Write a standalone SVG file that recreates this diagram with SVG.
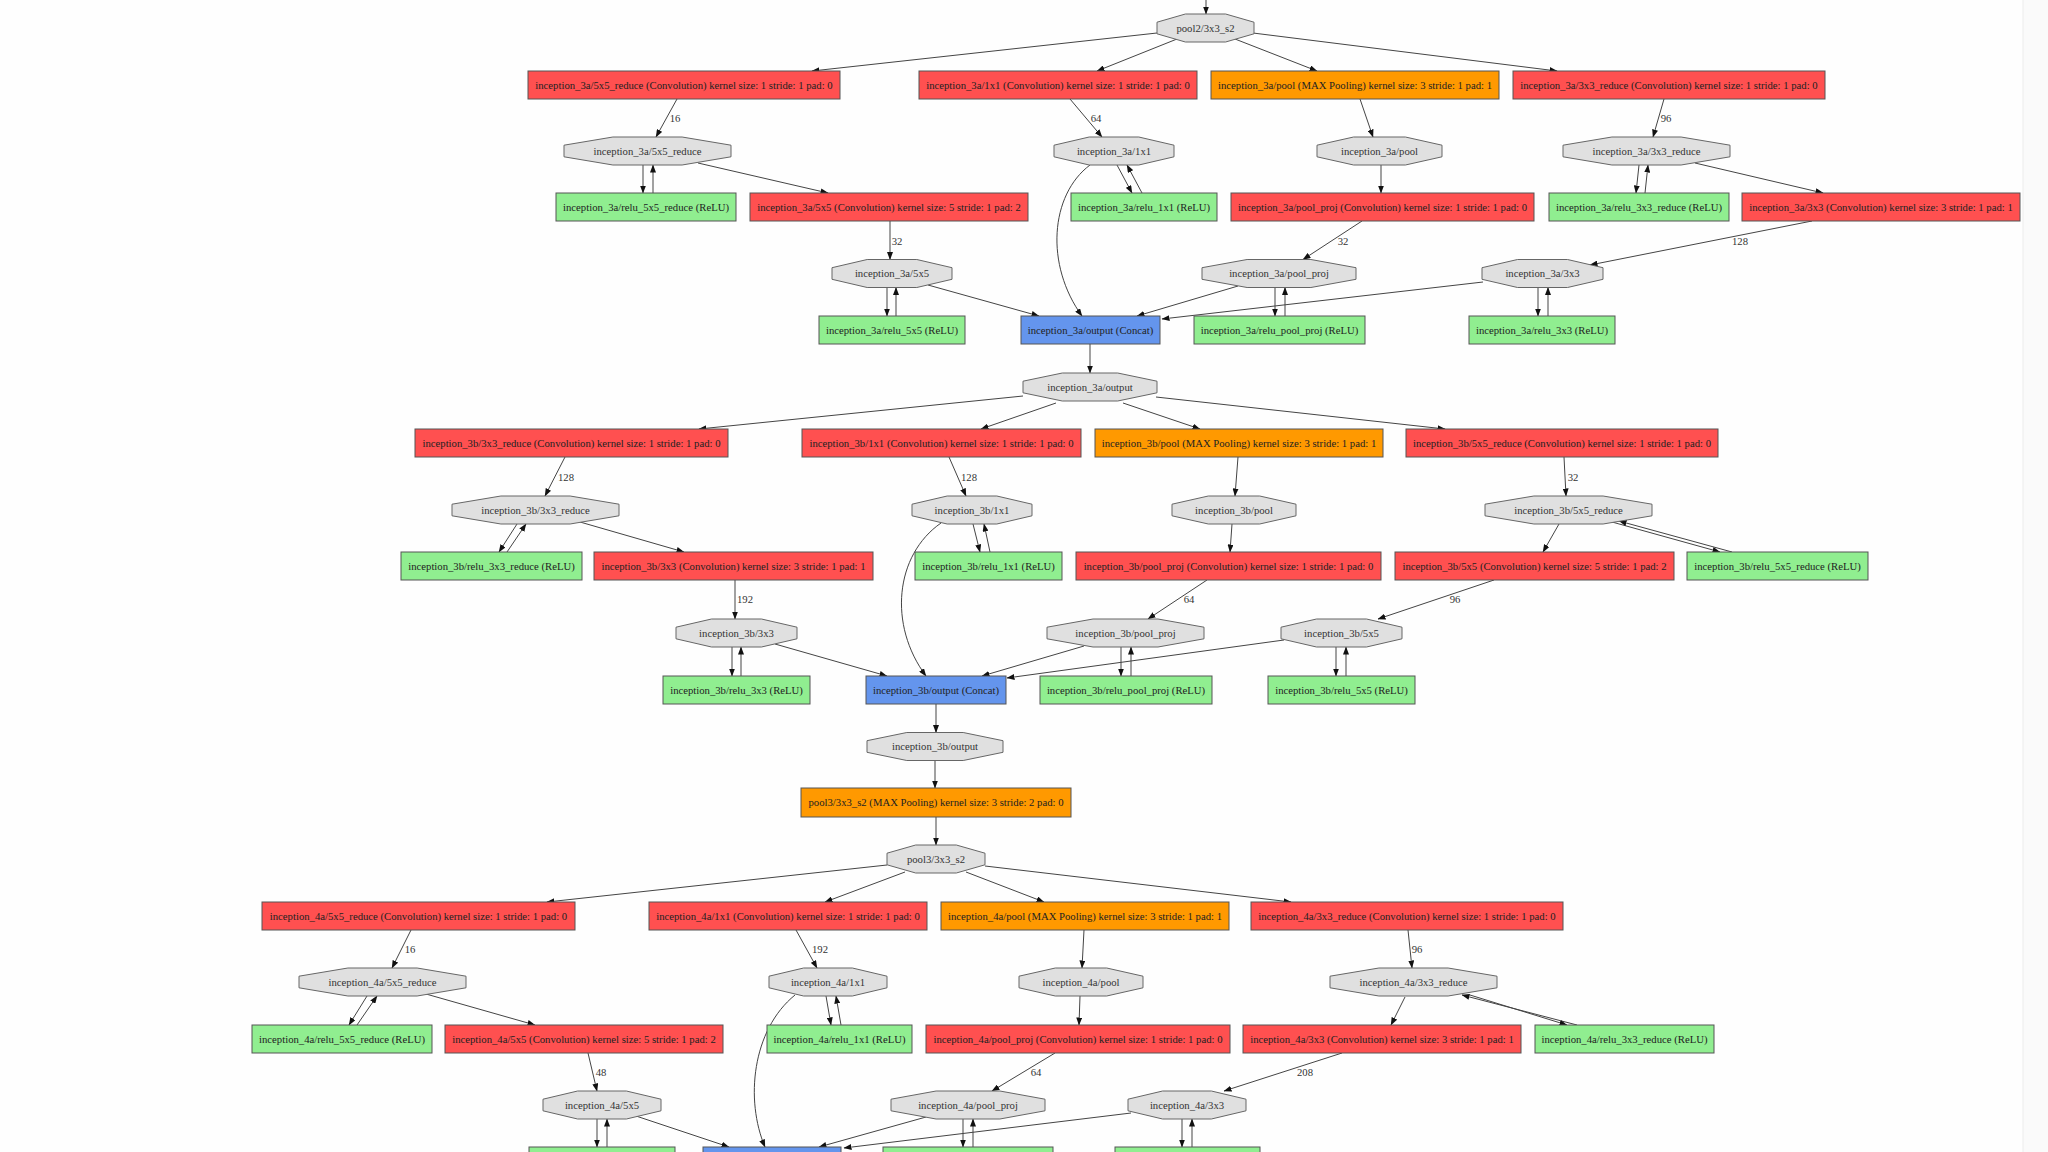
<svg xmlns="http://www.w3.org/2000/svg" width="2048" height="1152" viewBox="0 0 2048 1152">
<defs>
<style>
text{font-family:"Liberation Serif","Times New Roman",serif;font-size:10.7px;fill:#222;text-anchor:middle}
.conv rect{fill:#FF5050;stroke:#555;stroke-width:1}
.pool rect{fill:#FF9900;stroke:#555;stroke-width:1}
.relu rect{fill:#90EE90;stroke:#555;stroke-width:1}
.concat rect{fill:#6495ED;stroke:#555;stroke-width:1}
.blob polygon{fill:#E0E0E0;stroke:#666;stroke-width:1}
.blob text{fill:#333}
#edges path,#edges line{stroke:#444;stroke-width:1;fill:none;marker-end:url(#ah)}
#edges text{fill:#333}
</style>
<marker id="ah" markerUnits="userSpaceOnUse" markerWidth="8" markerHeight="6" refX="7.5" refY="3" orient="auto">
<path d="M0,0 L8,3 L0,6 z" fill="#111"/>
</marker>
</defs>
<rect width="2048" height="1152" fill="#fefefe"/>
<rect x="2023" y="0" width="25" height="1152" fill="#fafafa"/>
<line x1="2023" y1="0" x2="2023" y2="1152" stroke="#ececec" stroke-width="1"/>

<g id="edges">
<line x1="1206" y1="0" x2="1206" y2="14"/>
<line x1="1157" y1="33" x2="812" y2="71"/>
<line x1="1177" y1="39" x2="1097" y2="71"/>
<line x1="1235" y1="39" x2="1317" y2="71"/>
<line x1="1253" y1="33" x2="1557" y2="71"/>
<line x1="677" y1="99" x2="656" y2="137"/><text x="675" y="122">16</text>
<line x1="643" y1="165" x2="643" y2="193"/>
<line x1="653" y1="193" x2="653" y2="165"/>
<line x1="698" y1="163" x2="828" y2="193"/>
<line x1="890" y1="221" x2="890" y2="259.5"/><text x="897" y="245">32</text>
<line x1="887" y1="287.5" x2="887" y2="316"/>
<line x1="896" y1="316" x2="896" y2="287.5"/>
<line x1="928" y1="285" x2="1039" y2="316"/>
<line x1="1070" y1="99" x2="1102" y2="137"/><text x="1096" y="122">64</text>
<line x1="1117" y1="165" x2="1132" y2="193"/>
<line x1="1142" y1="193" x2="1127" y2="165"/>
<path d="M1090,165 C1050,195 1045,265 1082,316"/>
<line x1="1360" y1="99" x2="1373" y2="137"/>
<line x1="1381" y1="165" x2="1381" y2="193"/>
<line x1="1362" y1="221" x2="1303" y2="259.5"/><text x="1343" y="245">32</text>
<line x1="1275" y1="287.5" x2="1275" y2="316"/>
<line x1="1285" y1="316" x2="1285" y2="287.5"/>
<line x1="1238" y1="286" x2="1137" y2="316"/>
<line x1="1664" y1="99" x2="1653" y2="137"/><text x="1666" y="122">96</text>
<line x1="1639" y1="165" x2="1636" y2="193"/>
<line x1="1645" y1="193" x2="1648" y2="165"/>
<line x1="1695" y1="163" x2="1823" y2="193"/>
<line x1="1812" y1="221" x2="1590" y2="265"/><text x="1740" y="245">128</text>
<line x1="1538" y1="287.5" x2="1538" y2="316"/>
<line x1="1548" y1="316" x2="1548" y2="287.5"/>
<line x1="1483" y1="282" x2="1162" y2="319"/>
<line x1="1090" y1="344" x2="1090" y2="373"/>

<line x1="1023" y1="396" x2="699" y2="429"/>
<line x1="1056" y1="403" x2="981" y2="429"/>
<line x1="1123" y1="403" x2="1200" y2="429"/>
<line x1="1156" y1="397" x2="1445" y2="429"/>
<line x1="565" y1="457" x2="545" y2="496"/><text x="566" y="481">128</text>
<line x1="517" y1="524" x2="499" y2="552"/>
<line x1="507" y1="552" x2="526" y2="524"/>
<line x1="580" y1="522" x2="684" y2="552"/>
<line x1="735" y1="580" x2="735" y2="619"/><text x="745" y="603">192</text>
<line x1="732" y1="647" x2="732" y2="676"/>
<line x1="741" y1="676" x2="741" y2="647"/>
<line x1="775" y1="644" x2="887" y2="676"/>
<line x1="949" y1="457" x2="966" y2="496"/><text x="969" y="481">128</text>
<line x1="973" y1="524" x2="980" y2="552"/>
<line x1="990" y1="552" x2="984" y2="524"/>
<path d="M941,523 C895,555 888,625 926,676"/>
<line x1="1238" y1="457" x2="1235" y2="496"/>
<line x1="1232" y1="524" x2="1230" y2="552"/>
<line x1="1207" y1="580" x2="1148" y2="619"/><text x="1189" y="603">64</text>
<line x1="1121" y1="647" x2="1121" y2="676"/>
<line x1="1131" y1="676" x2="1131" y2="647"/>
<line x1="1084" y1="646" x2="982" y2="676"/>
<line x1="1284" y1="640" x2="1007" y2="678"/>
<line x1="1564" y1="457" x2="1566" y2="496"/><text x="1573" y="481">32</text>
<line x1="1559" y1="524" x2="1543" y2="552"/>
<line x1="1612" y1="522" x2="1720" y2="552"/>
<line x1="1732" y1="552" x2="1619" y2="521"/>
<line x1="1494" y1="580" x2="1378" y2="619"/><text x="1455" y="603">96</text>
<line x1="1336" y1="647" x2="1336" y2="676"/>
<line x1="1346" y1="676" x2="1346" y2="647"/>
<line x1="936" y1="703" x2="936" y2="732.5"/>

<line x1="935" y1="760.5" x2="935" y2="788"/>
<line x1="936" y1="817" x2="936" y2="845"/>

<line x1="887" y1="865" x2="547" y2="902"/>
<line x1="905" y1="872" x2="825" y2="902"/>
<line x1="966" y1="872" x2="1044" y2="902"/>
<line x1="985" y1="866" x2="1291" y2="902"/>
<line x1="411" y1="930" x2="392" y2="968"/><text x="410" y="953">16</text>
<line x1="367" y1="996" x2="349" y2="1025"/>
<line x1="357" y1="1025" x2="377" y2="996"/>
<line x1="426" y1="994" x2="535" y2="1025"/>
<line x1="588" y1="1053" x2="597" y2="1091"/><text x="601" y="1076">48</text>
<line x1="597" y1="1119" x2="597" y2="1147"/>
<line x1="607" y1="1147" x2="607" y2="1119"/>
<line x1="636" y1="1116" x2="729" y2="1147"/>
<line x1="796" y1="930" x2="817" y2="968"/><text x="820" y="953">192</text>
<line x1="826" y1="996" x2="831" y2="1025"/>
<line x1="841" y1="1025" x2="836" y2="996"/>
<path d="M795,995 C752,1030 745,1100 765,1147"/>
<line x1="1084" y1="930" x2="1082" y2="968"/>
<line x1="1080" y1="996" x2="1079" y2="1025"/>
<line x1="1055" y1="1053" x2="992" y2="1091"/><text x="1036" y="1076">64</text>
<line x1="963" y1="1119" x2="963" y2="1147"/>
<line x1="973" y1="1147" x2="973" y2="1119"/>
<line x1="926" y1="1117" x2="819" y2="1147"/>
<line x1="1131" y1="1113" x2="844" y2="1148"/>
<line x1="1408" y1="930" x2="1412" y2="968"/><text x="1417" y="953">96</text>
<line x1="1405" y1="997" x2="1391" y2="1025"/>
<line x1="1577" y1="1025" x2="1462" y2="995"/>
<line x1="1470" y1="995" x2="1567" y2="1025"/>
<line x1="1342" y1="1053" x2="1224" y2="1091"/><text x="1305" y="1076">208</text>
<line x1="1182" y1="1119" x2="1182" y2="1147"/>
<line x1="1192" y1="1147" x2="1192" y2="1119"/>
</g>

<g id="pool2_3x3_s2_blob" class="blob"><polygon points="1157,22.2 1185.4,14 1225.6,14 1254,22.2 1254,33.8 1225.6,42 1185.4,42 1157,33.8"/><text x="1205.5" y="31.7">pool2/3x3_s2</text></g>

<g id="inception_3a_5x5_reduce" class="conv"><rect x="528" y="71" width="312" height="28"/><text x="684" y="88.7">inception_3a/5x5_reduce (Convolution) kernel size: 1 stride: 1 pad: 0</text></g>
<g id="inception_3a_1x1" class="conv"><rect x="919" y="71" width="278" height="28"/><text x="1058" y="88.7">inception_3a/1x1 (Convolution) kernel size: 1 stride: 1 pad: 0</text></g>
<g id="inception_3a_pool" class="pool"><rect x="1211" y="71" width="288" height="28"/><text x="1355" y="88.7">inception_3a/pool (MAX Pooling) kernel size: 3 stride: 1 pad: 1</text></g>
<g id="inception_3a_3x3_reduce" class="conv"><rect x="1513" y="71" width="312" height="28"/><text x="1669" y="88.7">inception_3a/3x3_reduce (Convolution) kernel size: 1 stride: 1 pad: 0</text></g>

<g id="inception_3a_5x5_reduce_blob" class="blob"><polygon points="564,145.2 612.9,137 682.1,137 731,145.2 731,156.8 682.1,165 612.9,165 564,156.8"/><text x="647.5" y="154.7">inception_3a/5x5_reduce</text></g>
<g id="inception_3a_1x1_blob" class="blob"><polygon points="1054,145.2 1089.2,137 1138.8,137 1174,145.2 1174,156.8 1138.8,165 1089.2,165 1054,156.8"/><text x="1114" y="154.7">inception_3a/1x1</text></g>
<g id="inception_3a_pool_blob" class="blob"><polygon points="1317,145.2 1353.6,137 1405.4,137 1442,145.2 1442,156.8 1405.4,165 1353.6,165 1317,156.8"/><text x="1379.5" y="154.7">inception_3a/pool</text></g>
<g id="inception_3a_3x3_reduce_blob" class="blob"><polygon points="1563,145.2 1611.9,137 1681.1,137 1730,145.2 1730,156.8 1681.1,165 1611.9,165 1563,156.8"/><text x="1646.5" y="154.7">inception_3a/3x3_reduce</text></g>

<g id="inception_3a_relu_5x5_reduce" class="relu"><rect x="556" y="193" width="180" height="28"/><text x="646" y="210.7">inception_3a/relu_5x5_reduce (ReLU)</text></g>
<g id="inception_3a_5x5" class="conv"><rect x="750" y="193" width="278" height="28"/><text x="889" y="210.7">inception_3a/5x5 (Convolution) kernel size: 5 stride: 1 pad: 2</text></g>
<g id="inception_3a_relu_1x1" class="relu"><rect x="1071" y="193" width="146" height="28"/><text x="1144" y="210.7">inception_3a/relu_1x1 (ReLU)</text></g>
<g id="inception_3a_pool_proj" class="conv"><rect x="1231" y="193" width="303" height="28"/><text x="1382.5" y="210.7">inception_3a/pool_proj (Convolution) kernel size: 1 stride: 1 pad: 0</text></g>
<g id="inception_3a_relu_3x3_reduce" class="relu"><rect x="1549" y="193" width="180" height="28"/><text x="1639" y="210.7">inception_3a/relu_3x3_reduce (ReLU)</text></g>
<g id="inception_3a_3x3" class="conv"><rect x="1742" y="193" width="278" height="28"/><text x="1881" y="210.7">inception_3a/3x3 (Convolution) kernel size: 3 stride: 1 pad: 1</text></g>

<g id="inception_3a_5x5_blob" class="blob"><polygon points="832,267.7 867.2,259.5 916.8,259.5 952,267.7 952,279.3 916.8,287.5 867.2,287.5 832,279.3"/><text x="892" y="277.2">inception_3a/5x5</text></g>
<g id="inception_3a_pool_proj_blob" class="blob"><polygon points="1202,267.7 1247.1,259.5 1310.9,259.5 1356,267.7 1356,279.3 1310.9,287.5 1247.1,287.5 1202,279.3"/><text x="1279" y="277.2">inception_3a/pool_proj</text></g>
<g id="inception_3a_3x3_blob" class="blob"><polygon points="1482,267.7 1517.5,259.5 1567.5,259.5 1603,267.7 1603,279.3 1567.5,287.5 1517.5,287.5 1482,279.3"/><text x="1542.5" y="277.2">inception_3a/3x3</text></g>

<g id="inception_3a_relu_5x5" class="relu"><rect x="819" y="316" width="146" height="28"/><text x="892" y="333.7">inception_3a/relu_5x5 (ReLU)</text></g>
<g id="inception_3a_output" class="concat"><rect x="1021" y="316" width="139" height="28"/><text x="1090.5" y="333.7">inception_3a/output (Concat)</text></g>
<g id="inception_3a_relu_pool_proj" class="relu"><rect x="1194" y="316" width="171" height="28"/><text x="1279.5" y="333.7">inception_3a/relu_pool_proj (ReLU)</text></g>
<g id="inception_3a_relu_3x3" class="relu"><rect x="1469" y="316" width="146" height="28"/><text x="1542" y="333.7">inception_3a/relu_3x3 (ReLU)</text></g>

<g id="inception_3a_output_blob" class="blob"><polygon points="1023,381.2 1062.3,373 1117.7,373 1157,381.2 1157,392.8 1117.7,401 1062.3,401 1023,392.8"/><text x="1090" y="390.7">inception_3a/output</text></g>

<g id="inception_3b_3x3_reduce" class="conv"><rect x="415" y="429" width="313" height="28"/><text x="571.5" y="446.7">inception_3b/3x3_reduce (Convolution) kernel size: 1 stride: 1 pad: 0</text></g>
<g id="inception_3b_1x1" class="conv"><rect x="802" y="429" width="279" height="28"/><text x="941.5" y="446.7">inception_3b/1x1 (Convolution) kernel size: 1 stride: 1 pad: 0</text></g>
<g id="inception_3b_pool" class="pool"><rect x="1095" y="429" width="288" height="28"/><text x="1239" y="446.7">inception_3b/pool (MAX Pooling) kernel size: 3 stride: 1 pad: 1</text></g>
<g id="inception_3b_5x5_reduce" class="conv"><rect x="1406" y="429" width="312" height="28"/><text x="1562" y="446.7">inception_3b/5x5_reduce (Convolution) kernel size: 1 stride: 1 pad: 0</text></g>

<g id="inception_3b_3x3_reduce_blob" class="blob"><polygon points="452,504.2 500.9,496 570.1,496 619,504.2 619,515.8 570.1,524 500.9,524 452,515.8"/><text x="535.5" y="513.7">inception_3b/3x3_reduce</text></g>
<g id="inception_3b_1x1_blob" class="blob"><polygon points="912,504.2 947.2,496 996.8,496 1032,504.2 1032,515.8 996.8,524 947.2,524 912,515.8"/><text x="972" y="513.7">inception_3b/1x1</text></g>
<g id="inception_3b_pool_blob" class="blob"><polygon points="1172,504.2 1208.3,496 1259.7,496 1296,504.2 1296,515.8 1259.7,524 1208.3,524 1172,515.8"/><text x="1234" y="513.7">inception_3b/pool</text></g>
<g id="inception_3b_5x5_reduce_blob" class="blob"><polygon points="1485,504.2 1533.9,496 1603.1,496 1652,504.2 1652,515.8 1603.1,524 1533.9,524 1485,515.8"/><text x="1568.5" y="513.7">inception_3b/5x5_reduce</text></g>

<g id="inception_3b_relu_3x3_reduce" class="relu"><rect x="401" y="552" width="181" height="28"/><text x="491.5" y="569.7">inception_3b/relu_3x3_reduce (ReLU)</text></g>
<g id="inception_3b_3x3" class="conv"><rect x="594" y="552" width="279" height="28"/><text x="733.5" y="569.7">inception_3b/3x3 (Convolution) kernel size: 3 stride: 1 pad: 1</text></g>
<g id="inception_3b_relu_1x1" class="relu"><rect x="915" y="552" width="147" height="28"/><text x="988.5" y="569.7">inception_3b/relu_1x1 (ReLU)</text></g>
<g id="inception_3b_pool_proj" class="conv"><rect x="1076" y="552" width="305" height="28"/><text x="1228.5" y="569.7">inception_3b/pool_proj (Convolution) kernel size: 1 stride: 1 pad: 0</text></g>
<g id="inception_3b_5x5" class="conv"><rect x="1395" y="552" width="279" height="28"/><text x="1534.5" y="569.7">inception_3b/5x5 (Convolution) kernel size: 5 stride: 1 pad: 2</text></g>
<g id="inception_3b_relu_5x5_reduce" class="relu"><rect x="1687" y="552" width="181" height="28"/><text x="1777.5" y="569.7">inception_3b/relu_5x5_reduce (ReLU)</text></g>

<g id="inception_3b_3x3_blob" class="blob"><polygon points="676,627.2 711.5,619 761.5,619 797,627.2 797,638.8 761.5,647 711.5,647 676,638.8"/><text x="736.5" y="636.7">inception_3b/3x3</text></g>
<g id="inception_3b_pool_proj_blob" class="blob"><polygon points="1047,627.2 1093,619 1158,619 1204,627.2 1204,638.8 1158,647 1093,647 1047,638.8"/><text x="1125.5" y="636.7">inception_3b/pool_proj</text></g>
<g id="inception_3b_5x5_blob" class="blob"><polygon points="1281,627.2 1316.5,619 1366.5,619 1402,627.2 1402,638.8 1366.5,647 1316.5,647 1281,638.8"/><text x="1341.5" y="636.7">inception_3b/5x5</text></g>

<g id="inception_3b_relu_3x3" class="relu"><rect x="663" y="676" width="147" height="28"/><text x="736.5" y="693.7">inception_3b/relu_3x3 (ReLU)</text></g>
<g id="inception_3b_output" class="concat"><rect x="866" y="676" width="140" height="28"/><text x="936" y="693.7">inception_3b/output (Concat)</text></g>
<g id="inception_3b_relu_pool_proj" class="relu"><rect x="1040" y="676" width="172" height="28"/><text x="1126" y="693.7">inception_3b/relu_pool_proj (ReLU)</text></g>
<g id="inception_3b_relu_5x5" class="relu"><rect x="1268" y="676" width="147" height="28"/><text x="1341.5" y="693.7">inception_3b/relu_5x5 (ReLU)</text></g>

<g id="inception_3b_output_blob" class="blob"><polygon points="867,740.7 906.8,732.5 963.2,732.5 1003,740.7 1003,752.3 963.2,760.5 906.8,760.5 867,752.3"/><text x="935" y="750.2">inception_3b/output</text></g>

<g id="pool3_3x3_s2" class="pool"><rect x="801" y="788" width="270" height="29"/><text x="936" y="806.2">pool3/3x3_s2 (MAX Pooling) kernel size: 3 stride: 2 pad: 0</text></g>

<g id="pool3_3x3_s2_blob" class="blob"><polygon points="887,853.2 915.7,845 956.3,845 985,853.2 985,864.8 956.3,873 915.7,873 887,864.8"/><text x="936" y="862.7">pool3/3x3_s2</text></g>

<g id="inception_4a_5x5_reduce" class="conv"><rect x="262" y="902" width="313" height="28"/><text x="418.5" y="919.7">inception_4a/5x5_reduce (Convolution) kernel size: 1 stride: 1 pad: 0</text></g>
<g id="inception_4a_1x1" class="conv"><rect x="649" y="902" width="278" height="28"/><text x="788" y="919.7">inception_4a/1x1 (Convolution) kernel size: 1 stride: 1 pad: 0</text></g>
<g id="inception_4a_pool" class="pool"><rect x="941" y="902" width="288" height="28"/><text x="1085" y="919.7">inception_4a/pool (MAX Pooling) kernel size: 3 stride: 1 pad: 1</text></g>
<g id="inception_4a_3x3_reduce" class="conv"><rect x="1251" y="902" width="312" height="28"/><text x="1407" y="919.7">inception_4a/3x3_reduce (Convolution) kernel size: 1 stride: 1 pad: 0</text></g>

<g id="inception_4a_5x5_reduce_blob" class="blob"><polygon points="299,976.2 347.9,968 417.1,968 466,976.2 466,987.8 417.1,996 347.9,996 299,987.8"/><text x="382.5" y="985.7">inception_4a/5x5_reduce</text></g>
<g id="inception_4a_1x1_blob" class="blob"><polygon points="769,976.2 803.6,968 852.4,968 887,976.2 887,987.8 852.4,996 803.6,996 769,987.8"/><text x="828" y="985.7">inception_4a/1x1</text></g>
<g id="inception_4a_pool_blob" class="blob"><polygon points="1019,976.2 1055.3,968 1106.7,968 1143,976.2 1143,987.8 1106.7,996 1055.3,996 1019,987.8"/><text x="1081" y="985.7">inception_4a/pool</text></g>
<g id="inception_4a_3x3_reduce_blob" class="blob"><polygon points="1330,976.2 1378.9,968 1448.1,968 1497,976.2 1497,987.8 1448.1,996 1378.9,996 1330,987.8"/><text x="1413.5" y="985.7">inception_4a/3x3_reduce</text></g>

<g id="inception_4a_relu_5x5_reduce" class="relu"><rect x="252" y="1025" width="180" height="28"/><text x="342" y="1042.7">inception_4a/relu_5x5_reduce (ReLU)</text></g>
<g id="inception_4a_5x5" class="conv"><rect x="445" y="1025" width="278" height="28"/><text x="584" y="1042.7">inception_4a/5x5 (Convolution) kernel size: 5 stride: 1 pad: 2</text></g>
<g id="inception_4a_relu_1x1" class="relu"><rect x="767" y="1025" width="145" height="28"/><text x="839.5" y="1042.7">inception_4a/relu_1x1 (ReLU)</text></g>
<g id="inception_4a_pool_proj" class="conv"><rect x="926" y="1025" width="304" height="28"/><text x="1078" y="1042.7">inception_4a/pool_proj (Convolution) kernel size: 1 stride: 1 pad: 0</text></g>
<g id="inception_4a_3x3" class="conv"><rect x="1243" y="1025" width="278" height="28"/><text x="1382" y="1042.7">inception_4a/3x3 (Convolution) kernel size: 3 stride: 1 pad: 1</text></g>
<g id="inception_4a_relu_3x3_reduce" class="relu"><rect x="1535" y="1025" width="179" height="28"/><text x="1624.5" y="1042.7">inception_4a/relu_3x3_reduce (ReLU)</text></g>

<g id="inception_4a_5x5_blob" class="blob"><polygon points="543,1099.2 577.6,1091 626.4,1091 661,1099.2 661,1110.8 626.4,1119 577.6,1119 543,1110.8"/><text x="602" y="1108.7">inception_4a/5x5</text></g>
<g id="inception_4a_pool_proj_blob" class="blob"><polygon points="891,1099.2 936.1,1091 999.9,1091 1045,1099.2 1045,1110.8 999.9,1119 936.1,1119 891,1110.8"/><text x="968" y="1108.7">inception_4a/pool_proj</text></g>
<g id="inception_4a_3x3_blob" class="blob"><polygon points="1128,1099.2 1162.6,1091 1211.4,1091 1246,1099.2 1246,1110.8 1211.4,1119 1162.6,1119 1128,1110.8"/><text x="1187" y="1108.7">inception_4a/3x3</text></g>

<g id="inception_4a_relu_5x5" class="relu"><rect x="529" y="1147" width="146" height="28"/></g>
<g id="inception_4a_output" class="concat"><rect x="703" y="1147" width="138" height="28"/></g>
<g id="inception_4a_relu_pool_proj" class="relu"><rect x="883" y="1147" width="170" height="28"/></g>
<g id="inception_4a_relu_3x3" class="relu"><rect x="1115" y="1147" width="145" height="28"/></g>
</svg>
